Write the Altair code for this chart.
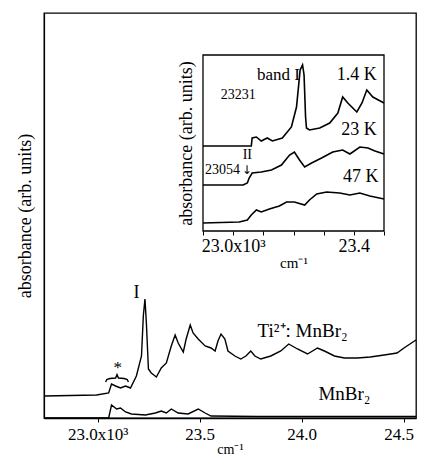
import altair as alt
import pandas as pd

FONT = "Liberation Serif"

# ---------------- main spectrum data (x in 10^3 cm^-1) ----------------
ti_x = [22.737, 22.995, 23.054, 23.068, 23.088, 23.112, 23.137, 23.161, 23.190, 23.215,
        23.224, 23.232, 23.239, 23.249, 23.263, 23.288, 23.312, 23.337, 23.361, 23.380,
        23.395, 23.420, 23.434, 23.454, 23.468, 23.493, 23.527, 23.556, 23.576, 23.590,
        23.605, 23.624, 23.639, 23.673, 23.702, 23.727, 23.751, 23.771, 23.800, 23.849,
        23.898, 23.937, 23.980, 24.029, 24.078, 24.112, 24.161, 24.210, 24.273, 24.337,
        24.405, 24.468, 24.502, 24.561]
ti_y = [0.22, 0.23, 0.25, 0.34, 0.32, 0.30, 0.32, 0.30, 0.42, 0.62,
        1.02, 1.19, 0.95, 0.49, 0.45, 0.41, 0.50, 0.55, 0.72, 0.83,
        0.75, 0.66, 0.79, 0.93, 0.85, 0.79, 0.72, 0.70, 0.67, 0.77,
        0.84, 0.79, 0.67, 0.62, 0.59, 0.62, 0.67, 0.62, 0.59, 0.62,
        0.67, 0.74, 0.69, 0.64, 0.70, 0.67, 0.62, 0.60, 0.60, 0.61,
        0.63, 0.65, 0.70, 0.78]

mn_x = [22.737, 23.054, 23.068, 23.093, 23.112, 23.137, 23.166, 23.234, 23.283, 23.312,
        23.337, 23.361, 23.395, 23.444, 23.493, 23.527, 23.556, 23.785, 24.561]
mn_y = [0.0, 0.0, 0.13, 0.09, 0.10, 0.06, 0.04, 0.03, 0.05, 0.07,
        0.05, 0.09, 0.05, 0.04, 0.09, 0.05, 0.02, 0.015, 0.015]

brace_x = [23.039, 23.045, 23.06, 23.088, 23.095, 23.102, 23.13, 23.145, 23.151]
brace_y = [0.36, 0.385, 0.395, 0.40, 0.435, 0.40, 0.395, 0.385, 0.36]

main_ticks = [23.0, 23.5, 24.0, 24.5]
main_x_dom = [22.737, 24.561]
main_y_dom = [0.0, 4.05]

main_labels = ["I", "*", "Ti²⁺: MnBr₂", "MnBr₂"]
main_lab_x = [23.19, 23.098, 24.005, 24.21]
main_lab_y = [1.25, 0.50, 0.87, 0.24]
main_lab_fs = [18, 17, 19, 19]

# ---------------- inset data ----------------
k14_x = [22.9, 23.06, 23.063, 23.077, 23.093, 23.113, 23.13, 23.163, 23.193, 23.21,
         23.222, 23.23, 23.235, 23.24, 23.243, 23.253, 23.287, 23.32, 23.347, 23.363,
         23.38, 23.41, 23.427, 23.443, 23.463, 23.5]
k14_y = [0.85, 0.85, 0.93, 0.94, 0.90, 0.93, 0.90, 0.93, 1.04, 1.24,
         1.61, 1.66, 1.56, 1.14, 1.03, 1.01, 1.03, 1.08, 1.18, 1.34,
         1.28, 1.19, 1.28, 1.41, 1.34, 1.28]

k23_x = [22.9, 23.033, 23.047, 23.053, 23.063, 23.093, 23.127, 23.16, 23.187, 23.203,
         23.22, 23.237, 23.26, 23.293, 23.33, 23.363, 23.387, 23.42, 23.447, 23.47, 23.5]
k23_y = [0.46, 0.46, 0.48, 0.53, 0.58, 0.59, 0.61, 0.66, 0.76, 0.79,
         0.71, 0.64, 0.68, 0.73, 0.79, 0.81, 0.77, 0.84, 0.83, 0.80, 0.77]

k47_x = [22.9, 23.02, 23.047, 23.06, 23.077, 23.093, 23.12, 23.153, 23.177, 23.203,
         23.237, 23.253, 23.277, 23.31, 23.353, 23.387, 23.42, 23.453, 23.5]
k47_y = [0.08, 0.09, 0.11, 0.16, 0.21, 0.19, 0.22, 0.25, 0.29, 0.29,
         0.26, 0.31, 0.37, 0.39, 0.38, 0.36, 0.38, 0.35, 0.32]

inset_ticks = [22.9, 23.0, 23.1, 23.2, 23.3, 23.4, 23.5]
inset_x_dom = [22.9, 23.5]
inset_y_dom = [0.0, 1.76]

inset_labels = ["band I", "23231", "1.4 K", "23 K", "II", "23054", "47 K"]
inset_lab_x = [23.15, 23.017, 23.41, 23.417, 23.047, 22.965, 23.423]
inset_lab_y = [1.56, 1.36, 1.56, 1.01, 0.76, 0.61, 0.54]
inset_lab_fs = [17, 14, 18, 18, 14, 14, 18]

arrow_x = [23.045]
arrow_y = [0.615]

# ---------------- layout ----------------
W, H = 372, 405
INSET_LEFT, INSET_RIGHT = 159, 340      # inset x range inside plot area
INSET_TOP, INSET_BOTTOM = 42, 218        # inset y range inside plot area

main_df = pd.concat([
    pd.DataFrame({"x": ti_x, "y": ti_y, "s": "Ti"}),
    pd.DataFrame({"x": mn_x, "y": mn_y, "s": "Mn"}),
    pd.DataFrame({"x": brace_x, "y": brace_y, "s": "brace"}),
])
main_text_df = pd.DataFrame({"x": main_lab_x, "y": main_lab_y, "t": main_labels, "fs": main_lab_fs})

inset_df = pd.concat([
    pd.DataFrame({"x": k14_x, "y": k14_y, "s": "1.4K"}),
    pd.DataFrame({"x": k23_x, "y": k23_y, "s": "23K"}),
    pd.DataFrame({"x": k47_x, "y": k47_y, "s": "47K"}),
])
inset_text_df = pd.DataFrame({"x": inset_lab_x, "y": inset_lab_y, "t": inset_labels, "fs": inset_lab_fs})
arrow_df = pd.DataFrame({"x": arrow_x, "y": arrow_y, "t": ["↓"]})
frame_df = pd.DataFrame({"x": [inset_x_dom[0]], "x2": [inset_x_dom[1]],
                         "y": [inset_y_dom[0]], "y2": [inset_y_dom[1]]})

main_x_axis = alt.Axis(values=main_ticks, tickSize=4, labelPadding=4, labelFontSize=17,
                       labelExpr="datum.value == 23 ? '23.0x10³' : format(datum.value, '.1f')",
                       labelOffset={"condition": {"test": "datum.value > 24.4", "value": -5}, "value": 0},
                       title="cm⁻¹", titleFontSize=14, titlePadding=0, domainWidth=1.5)
main_y_axis = alt.Axis(labels=False, ticks=False, title="absorbance (arb. units)",
                       titleFontSize=18, titlePadding=10, domainWidth=1.2)


def mx():
    return alt.X("x:Q", scale=alt.Scale(domain=main_x_dom, nice=False, zero=False), axis=main_x_axis)


def my():
    return alt.Y("y:Q", scale=alt.Scale(domain=main_y_dom, nice=False, zero=False), axis=main_y_axis)


inset_x_axis = alt.Axis(values=inset_ticks, orient="bottom", offset=-(H - INSET_BOTTOM), tickSize=4,
                        labelPadding=2, labelFontSize=18, domain=False,
                        labelExpr="abs(datum.value - 23) < 0.001 ? '23.0x10³' : (abs(datum.value - 23.4) < 0.001 ? '23.4' : '')",
                        title="cm⁻¹", titleFontSize=15, titlePadding=0)
inset_y_axis = alt.Axis(orient="left", offset=-INSET_LEFT, labels=False, ticks=False, domain=False,
                        title="absorbance (arb. units)", titleFontSize=18, titlePadding=8)


def ix():
    return alt.X("x:Q", scale=alt.Scale(domain=inset_x_dom, range=[INSET_LEFT, INSET_RIGHT], nice=False, zero=False),
                 axis=inset_x_axis)


def iy():
    return alt.Y("y:Q", scale=alt.Scale(domain=inset_y_dom, range=[INSET_BOTTOM, INSET_TOP], nice=False, zero=False),
                 axis=inset_y_axis)


main_lines = alt.Chart(main_df).mark_line(color="black", strokeWidth=1.4).encode(
    x=mx(), y=my(), detail="s:N", order=alt.Order("x:Q"))
main_text = alt.Chart(main_text_df).mark_text(font=FONT, color="black", baseline="middle", align="center").encode(
    x=mx(), y=my(), text="t:N", size=alt.Size("fs:Q", scale=None))
main_layer = alt.layer(main_lines, main_text)

frame = alt.Chart(frame_df).mark_rect(fillOpacity=0, stroke="black", strokeWidth=1.3).encode(
    x=ix(), x2="x2:Q", y=iy(), y2="y2:Q")
inset_lines = alt.Chart(inset_df).mark_line(color="black", strokeWidth=1.6).encode(
    x=ix(), y=iy(), detail="s:N", order=alt.Order("x:Q"))
inset_text = alt.Chart(inset_text_df).mark_text(font=FONT, color="black", baseline="middle", align="center").encode(
    x=ix(), y=iy(), text="t:N", size=alt.Size("fs:Q", scale=None))
arrow_text = alt.Chart(arrow_df).mark_text(font="DejaVu Sans", color="black", fontSize=12,
                                           baseline="middle", align="center").encode(
    x=ix(), y=iy(), text="t:N")
inset_layer = alt.layer(frame, inset_lines, inset_text, arrow_text)

chart = alt.layer(main_layer, inset_layer).resolve_scale(
    x="independent", y="independent"
).properties(
    width=W, height=H,
    autosize=alt.AutoSizeParams(type="none"),
    padding={"left": 36, "top": 5, "right": 1, "bottom": 37},
).configure_axis(
    labelFont=FONT, titleFont=FONT, labelColor="black", titleColor="black",
    domainColor="black", tickColor="black", grid=False, titleFontWeight="normal",
).configure_view(stroke="black", strokeWidth=1.3)

chart.save("out.html", embed_options={"renderer": "svg", "actions": False})
